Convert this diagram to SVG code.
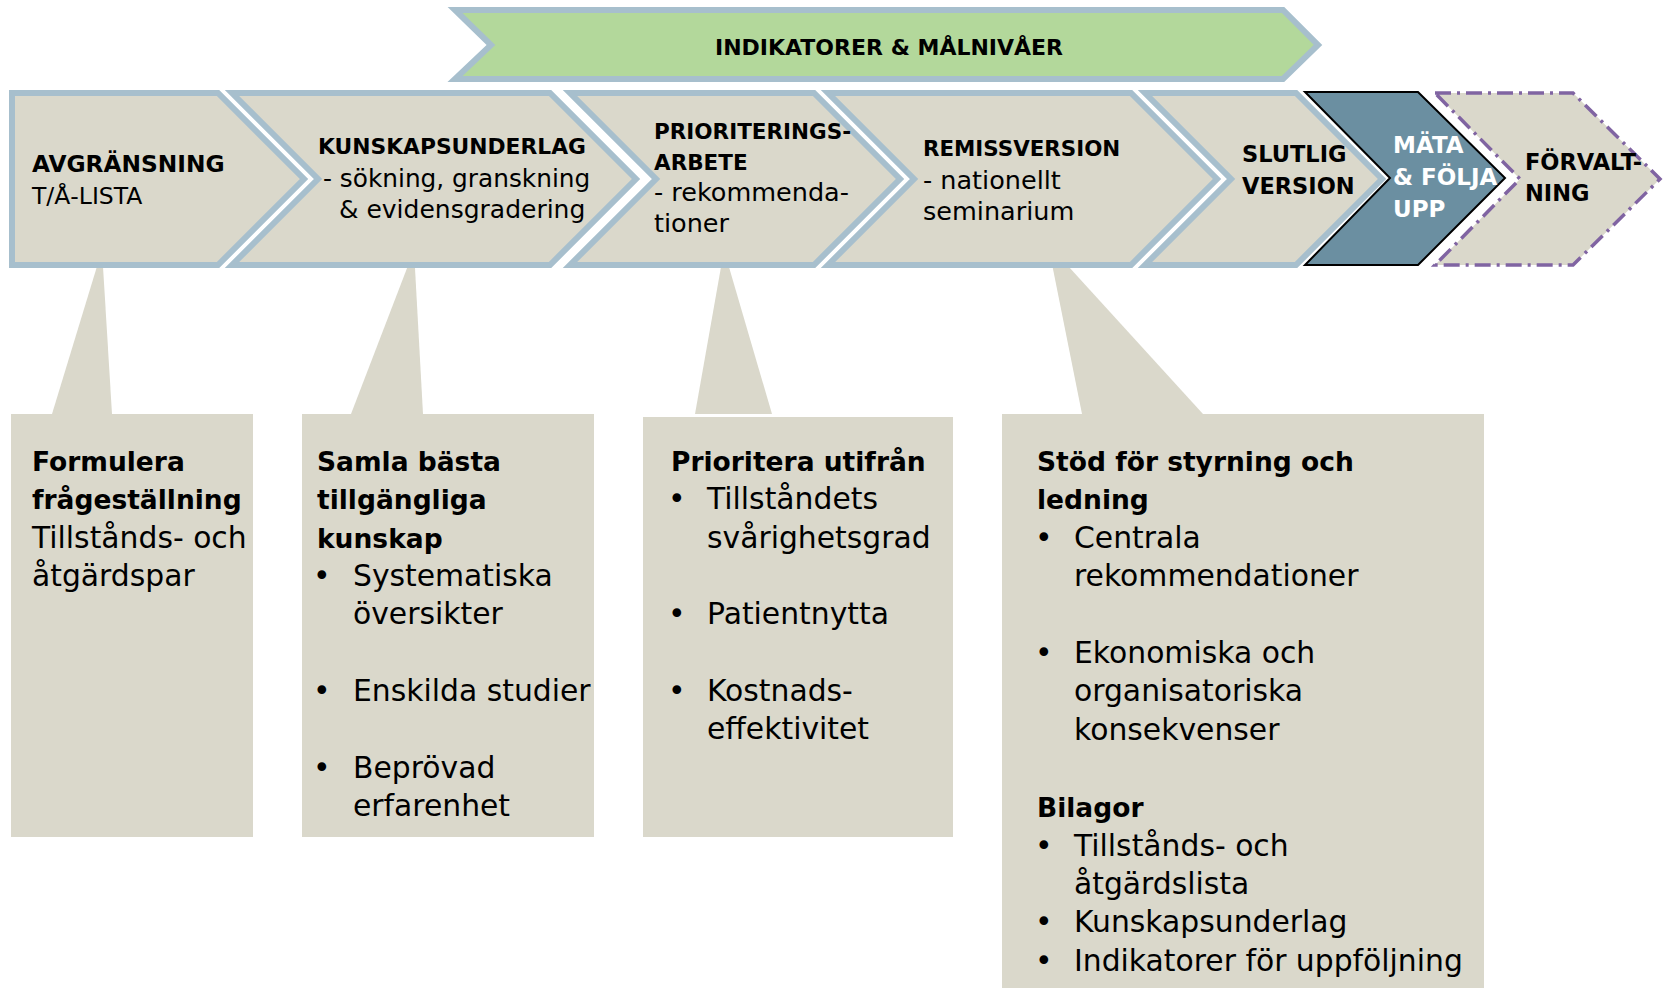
<svg xmlns="http://www.w3.org/2000/svg" width="1664" height="988" viewBox="0 0 1664 988">
<style>
.chev{fill:#dad8cb;stroke:#a7bfcd;stroke-width:6;stroke-linejoin:miter}
.box{fill:#dad8cb}
.h{font-family:"DejaVu Sans",sans-serif;font-weight:bold;font-size:22.5px;fill:#000}
.r{font-family:"DejaVu Sans",sans-serif;font-size:25.5px;fill:#000}
.bh{font-family:"DejaVu Sans",sans-serif;font-weight:bold;font-size:26.5px;fill:#000}
.bt{font-family:"DejaVu Sans",sans-serif;font-size:29.8px;fill:#000}
.w{fill:#fff}
</style>
<rect width="1664" height="988" fill="#fff"/>

<g id="connectors">
<polygon class="box" points="52,414 102,250 112,414"/>
<polygon class="box" points="351,414 414,250 423,414"/>
<polygon class="box" points="695,414 724,250 772,414"/>
<polygon class="box" points="1082,414 1048,244 1203,414"/>
</g>

<g id="box1">
<rect class="box" x="11" y="414" width="242" height="423"/>
<text class="bh" x="32" y="471">Formulera</text>
<text class="bh" x="32" y="509">frågeställning</text>
<text class="bt" x="32" y="548">Tillstånds- och</text>
<text class="bt" x="32" y="586">åtgärdspar</text>
</g>

<g id="box2">
<rect class="box" x="302" y="414" width="292" height="423"/>
<text class="bh" x="317" y="471">Samla bästa</text>
<text class="bh" x="317" y="509">tillgängliga</text>
<text class="bh" x="317" y="548">kunskap</text>
<text class="bt" x="313" y="586">•</text><text class="bt" x="353" y="586">Systematiska</text>
<text class="bt" x="353" y="624">översikter</text>
<text class="bt" x="313" y="701">•</text><text class="bt" x="353" y="701">Enskilda studier</text>
<text class="bt" x="313" y="778">•</text><text class="bt" x="353" y="778">Beprövad</text>
<text class="bt" x="353" y="816">erfarenhet</text>
</g>

<g id="box3">
<rect class="box" x="643" y="417" width="310" height="420"/>
<text class="bh" x="671" y="471">Prioritera utifrån</text>
<text class="bt" x="668" y="509">•</text><text class="bt" x="707" y="509">Tillståndets</text>
<text class="bt" x="707" y="548">svårighetsgrad</text>
<text class="bt" x="668" y="624">•</text><text class="bt" x="707" y="624">Patientnytta</text>
<text class="bt" x="668" y="701">•</text><text class="bt" x="707" y="701">Kostnads-</text>
<text class="bt" x="707" y="739">effektivitet</text>
</g>

<g id="box4">
<rect class="box" x="1002" y="414" width="482" height="574"/>
<text class="bh" x="1037" y="471">Stöd för styrning och</text>
<text class="bh" x="1037" y="509">ledning</text>
<text class="bt" x="1035" y="548">•</text><text class="bt" x="1074" y="548">Centrala</text>
<text class="bt" x="1074" y="586">rekommendationer</text>
<text class="bt" x="1035" y="663">•</text><text class="bt" x="1074" y="663">Ekonomiska och</text>
<text class="bt" x="1074" y="701">organisatoriska</text>
<text class="bt" x="1074" y="740">konsekvenser</text>
<text class="bh" x="1037" y="817">Bilagor</text>
<text class="bt" x="1035" y="856">•</text><text class="bt" x="1074" y="856">Tillstånds- och</text>
<text class="bt" x="1074" y="894">åtgärdslista</text>
<text class="bt" x="1035" y="932">•</text><text class="bt" x="1074" y="932">Kunskapsunderlag</text>
<text class="bt" x="1035" y="971">•</text><text class="bt" x="1074" y="971">Indikatorer för uppföljning</text>
</g>

<g id="banner">
<path d="M455,10 L1283,10 L1318,45 L1283,79 L455,79 L491,45 Z" fill="#b3d89b" stroke="#a7bfcd" stroke-width="6"/>
<text class="h" x="889" y="55" text-anchor="middle" style="font-size:22px">INDIKATORER &amp; MÅLNIVÅER</text>
</g>

<g id="step1">
<path class="chev" d="M12,93 L218,93 L304,179 L218,265 L12,265 Z"/>
<text class="h" x="32" y="172" style="font-size:23.3px">AVGRÄNSNING</text>
<text class="r" x="32" y="204" style="font-size:23.5px">T/Å-LISTA</text>
</g>

<g id="step2">
<path class="chev" d="M232,93 L550,93 L636,179 L550,265 L232,265 L318,179 Z"/>
<text class="h" x="318" y="154" style="font-size:21.8px">KUNSKAPSUNDERLAG</text>
<text class="r" x="323" y="187" style="font-size:24.8px">- sökning, granskning</text>
<text class="r" x="339" y="218" style="font-size:25px">&amp; evidensgradering</text>
</g>

<g id="step3">
<path class="chev" d="M570,93 L814,93 L900,179 L814,265 L570,265 L656,179 Z"/>
<text class="h" x="654" y="139" style="font-size:21.5px">PRIORITERINGS-</text>
<text class="h" x="654" y="170" style="font-size:21.5px">ARBETE</text>
<text class="r" x="654" y="201">- rekommenda-</text>
<text class="r" x="654" y="232">tioner</text>
</g>

<g id="step4">
<path class="chev" d="M828,93 L1131,93 L1217,179 L1131,265 L828,265 L914,179 Z"/>
<text class="h" x="923" y="156" style="font-size:21.4px">REMISSVERSION</text>
<text class="r" x="923" y="189">- nationellt</text>
<text class="r" x="923" y="220">seminarium</text>
</g>

<g id="step5">
<path class="chev" d="M1145,93 L1296,93 L1382,179 L1296,265 L1145,265 L1231,179 Z"/>
<text class="h" x="1242" y="162">SLUTLIG</text>
<text class="h" x="1242" y="194">VERSION</text>
</g>

<g id="step6">
<path d="M1305,92 L1418,92 L1505,178 L1418,265 L1305,265 L1390,178 Z" fill="#6b8fa1" stroke="#000" stroke-width="2"/>
<text class="h w" x="1393" y="153" style="font-size:23px">MÄTA</text>
<text class="h w" x="1393" y="185" style="font-size:23px">&amp; FÖLJA</text>
<text class="h w" x="1393" y="217" style="font-size:23px">UPP</text>
</g>

<g id="step7">
<path d="M1435,93 L1573,93 L1660,179 L1573,265 L1435,265 L1520,179 Z" fill="#dad8cb" stroke="#8064a2" stroke-width="3.5" stroke-dasharray="16 6 3 6"/>
<text class="h" x="1525" y="170">FÖRVALT-</text>
<text class="h" x="1525" y="201">NING</text>
</g>
</svg>
